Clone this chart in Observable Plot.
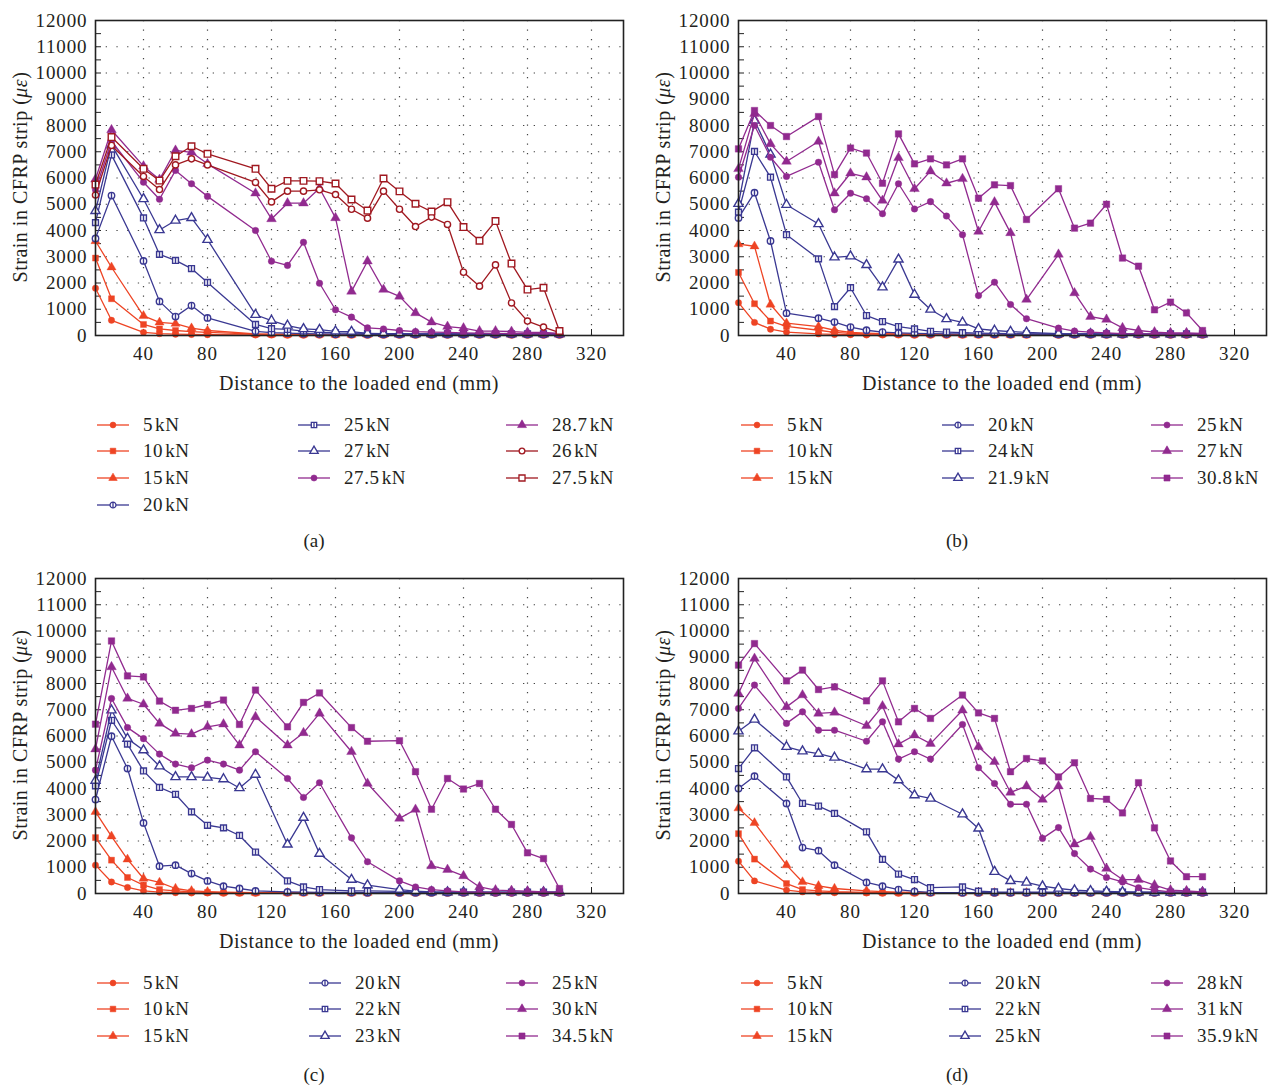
<!DOCTYPE html>
<html><head><meta charset="utf-8">
<script src="https://cdn.jsdelivr.net/npm/d3@7"></script>
<script src="https://cdn.jsdelivr.net/npm/@observablehq/plot@0.6"></script>
<style>
body{margin:0;background:#fff;overflow:hidden;font-family:"Liberation Serif",serif;color:#231f20;}
#root{position:relative;width:1272px;height:1087px;}
.panel{position:absolute;width:636px;height:540px;}
.panel svg.chart{position:absolute;left:0;top:0;}
.panel svg.chart text{font-family:"Liberation Serif",serif !important;}
.ylab{position:absolute;left:20px;top:177px;transform:translate(-50%,-50%) rotate(-90deg);white-space:nowrap;font-size:20px;letter-spacing:0.5px;line-height:20px;}
.xlab{position:absolute;left:359px;top:373px;transform:translateX(-50%);white-space:nowrap;font-size:20px;letter-spacing:0.6px;line-height:20px;}
.leg{position:absolute;height:20px;white-space:nowrap;font-size:19px;letter-spacing:0.6px;line-height:20px;}
.leg svg{position:absolute;left:0;top:3px;}
.leg span.t{position:absolute;top:0;}
.leg span.u{margin-left:2px;}
.cap{position:absolute;left:314px;transform:translateX(-50%);font-size:19px;line-height:20px;}
</style></head>
<body><div id="root"></div>
<script>
// ---------- data ----------
const xTicks = [40, 80, 120, 160, 200, 240, 280, 320];
const yTicks = [0,1000,2000,3000,4000,5000,6000,7000,8000,9000,10000,11000,12000];

// Panel (a)
const xA = [10,20,40,50,60,70,80,110,120,130,140,150,160,170,180,190,200,210,220,230,240,250,260,270,280,290,300];
const labelsA = ["5","10","15","20","25","27","27.5","28.7","26","27.5"];
const a5   = [1800,580,120,70,50,40,30,20,15,10,10,10,10,10,10,10,10,10,10,10,10,10,10,10,10,10,10];
const a10  = [2950,1400,420,250,190,150,120,50,40,30,30,30,30,20,20,20,20,20,20,20,20,20,20,20,20,20,20];
const a15  = [3600,2600,750,500,450,280,190,60,50,40,40,40,30,30,30,30,30,30,30,30,30,30,30,30,30,30,30];
const a20  = [3700,5330,2840,1300,720,1140,670,160,110,90,70,60,50,50,40,40,40,40,40,40,40,40,40,40,40,40,40];
const a25  = [4300,6880,4480,3090,2860,2550,2020,420,260,230,170,130,100,90,80,70,70,60,60,60,60,60,60,60,60,60,60];
const a27  = [4750,7250,5200,4020,4380,4480,3650,790,570,380,250,220,160,150,80,70,60,60,60,60,60,60,60,60,60,60,60];
const a275 = [5550,7400,5840,5190,6290,5780,5300,4000,2830,2670,3550,1990,980,700,290,250,190,150,130,120,100,90,80,70,70,60,60];
const a287 = [5950,7830,6450,5940,7050,6980,6540,5420,4440,5040,5040,5610,4480,1680,2830,1750,1490,860,510,340,280,170,170,150,120,120,80];
const a26  = [5350,7240,6060,5560,6500,6730,6500,5830,5090,5500,5500,5550,5370,4810,4470,5500,4810,4150,4510,4230,2410,1880,2690,1240,550,320,110];
const a275s= [5750,7560,6350,5900,6830,7210,6920,6350,5590,5890,5890,5880,5790,5180,4760,5980,5490,5020,4720,5080,4130,3610,4360,2740,1750,1820,170];

// Panel (b)
const xB = [10,20,30,40,60,70,80,90,100,110,120,130,140,150,160,170,180,190,210,220,230,240,250,260,270,280,290,300];
const labelsB = ["5","10","15","20","24","21.9","25","27","30.8"];
const b5   = [1250,500,240,130,60,40,30,20,20,15,10,10,10,10,10,10,10,10,10,10,10,10,10,10,10,10,10,10];
const b10  = [2400,1210,550,350,200,120,80,60,50,40,30,30,20,20,20,20,20,20,20,20,20,20,20,20,20,20,20,20];
const b15  = [3480,3400,1180,470,340,200,120,90,70,60,50,40,40,30,30,30,30,30,30,30,30,30,30,30,30,30,30,30];
const b20  = [4480,5440,3600,850,660,510,320,200,130,100,80,70,60,60,50,50,50,50,40,40,40,40,40,40,40,40,40,40];
const b24  = [4700,7010,6030,3840,2920,1100,1820,760,530,340,250,160,130,110,90,80,70,60,60,60,60,60,60,60,60,60,60,60];
const b219 = [5020,8190,6900,4980,4250,2980,3020,2690,1840,2900,1560,990,630,500,250,190,150,120,70,60,60,50,50,50,50,50,50,50];
const b25  = [6030,8000,6790,6060,6600,4790,5420,5210,4640,5780,4820,5100,4550,3840,1520,2030,1180,640,280,170,130,100,70,60,50,50,50,50];
const b27  = [6350,8450,7300,6630,7390,5420,6180,6030,5140,6770,5590,6260,5800,5970,3960,5080,3910,1370,3090,1620,720,610,290,190,130,100,100,80];
const b308 = [7110,8570,8000,7580,8340,6130,7140,6950,5800,7680,6540,6730,6500,6730,5230,5740,5710,4420,5590,4090,4280,5000,2950,2640,980,1270,860,190];

// Panel (c)
const xC = [10,20,30,40,50,60,70,80,90,100,110,130,140,150,170,180,200,210,220,230,240,250,260,270,280,290,300];
const labelsC = ["5","10","15","20","22","23","25","30","34.5"];
const c5   = [1080,440,230,100,50,30,20,20,10,10,10,10,10,10,10,10,10,10,10,10,10,10,10,10,10,10,10];
const c10  = [2130,1270,610,320,150,100,60,40,30,20,20,20,20,20,20,20,20,20,20,20,20,20,20,20,20,20,20];
const c15  = [3110,2180,1300,570,420,190,100,70,50,40,30,30,30,30,30,30,30,30,30,30,30,30,30,30,30,30,30];
const c20  = [3580,5990,4760,2690,1040,1080,760,480,280,190,100,60,50,40,40,30,30,30,30,30,30,30,30,30,30,30,30];
const c22  = [4100,6600,5690,4670,4040,3780,3110,2600,2500,2210,1580,480,250,150,100,100,80,60,50,50,50,50,50,50,50,50,50];
const c23  = [4300,6980,5900,5460,4850,4440,4440,4420,4360,4020,4530,1870,2890,1520,530,320,150,90,60,50,50,50,50,50,50,50,50];
const c25  = [4700,7430,6320,5900,5310,4930,4790,5080,4930,4700,5400,4380,3660,4220,2120,1210,480,250,150,100,60,40,30,30,30,30,30];
const c30  = [5500,8630,7430,7210,6480,6100,6070,6350,6450,5650,6730,5650,6120,6860,5400,4190,2860,3200,1050,910,670,250,130,110,90,60,50];
const c345 = [6450,9620,8290,8250,7330,6980,7050,7200,7370,6440,7750,6350,7280,7640,6320,5800,5820,4640,3210,4380,3980,4190,3210,2630,1550,1330,190];

// Panel (d)
const xD = [10,20,40,50,60,70,90,100,110,120,130,150,160,170,180,190,200,210,220,230,240,250,260,270,280,290,300];
const labelsD = ["5","10","15","20","22","25","28","31","35.9"];
const d5   = [1230,480,130,60,40,30,20,10,10,10,10,10,10,10,10,10,10,10,10,10,10,10,10,10,10,10,10];
const d10  = [2280,1310,380,150,100,70,40,30,20,20,20,20,20,20,20,20,20,20,20,20,20,20,20,20,20,20,20];
const d15  = [3250,2690,1080,440,290,190,100,70,50,40,30,30,30,30,30,30,30,30,30,30,30,30,30,30,30,30,30];
const d20  = [4000,4470,3430,1750,1630,1080,420,280,150,80,40,30,30,30,30,30,30,30,30,30,30,30,30,30,30,30,30];
const d22  = [4760,5550,4440,3430,3330,3050,2350,1300,740,530,220,250,90,60,50,50,50,50,50,50,50,50,50,50,50,50,50];
const d25  = [6180,6630,5590,5420,5330,5180,4740,4740,4320,3750,3620,3020,2480,830,480,420,280,190,130,100,80,60,50,40,40,40,40];
const d28  = [7050,7940,6480,6920,6220,6220,5800,6540,5120,5400,5120,6440,4790,4190,3400,3400,2100,2510,1520,930,610,440,220,130,60,50,50];
const d31  = [7620,8950,7110,7560,6860,6900,6390,7140,5690,6030,5710,6980,5590,5020,3850,4090,3580,4090,1880,2160,950,530,530,320,130,100,60];
const d359 = [8700,9520,8100,8510,7770,7870,7340,8100,6540,7050,6670,7560,6880,6670,4640,5140,5050,4440,4980,3620,3590,3070,4220,2500,1240,640,640];

// ---------- styles ----------
const RED = "#ee4424", BLUE = "#3a3892", PURPLE = "#912a8f", DRED = "#a01820";
const circleBar = {draw(ctx, size){const r=Math.sqrt(size/Math.PI);ctx.moveTo(r,0);ctx.arc(0,0,r,0,2*Math.PI);ctx.closePath();ctx.moveTo(0,-r);ctx.lineTo(0,r);}};
const squareBar = {draw(ctx, size){const w=Math.sqrt(size)/2;ctx.moveTo(-w,-w);ctx.lineTo(w,-w);ctx.lineTo(w,w);ctx.lineTo(-w,w);ctx.closePath();ctx.moveTo(0,-w);ctx.lineTo(0,w);}};
const ST = {
  rc:{color:RED,sym:d3.symbolCircle,kind:"fill",r:3.2},
  rs:{color:RED,sym:d3.symbolSquare,kind:"fill",r:3.4},
  rt:{color:RED,sym:d3.symbolTriangle,kind:"fill",r:3.4},
  bc:{color:BLUE,sym:circleBar,kind:"open",r:3.2},
  bs:{color:BLUE,sym:squareBar,kind:"open",r:3.3},
  bt:{color:BLUE,sym:d3.symbolTriangle,kind:"open",r:3.4},
  pc:{color:PURPLE,sym:d3.symbolCircle,kind:"fill",r:3.3},
  pt:{color:PURPLE,sym:d3.symbolTriangle,kind:"fill",r:3.6},
  ps:{color:PURPLE,sym:d3.symbolSquare,kind:"fill",r:3.7},
  dc:{color:DRED,sym:d3.symbolCircle,kind:"open",r:3.1},
  ds:{color:DRED,sym:d3.symbolSquare,kind:"open",r:3.7}
};

const panels = [
  {id:"(a)", left:0, top:0, xs:xA, labels:labelsA,
   values:[a5,a10,a15,a20,a25,a27,a275,a287,a26,a275s],
   styles:["rc","rs","rt","bc","bs","bt","pc","pt","dc","ds"],
   cols:[[0,1,2,3],[4,5,6],[7,8,9]], colX:[96,297,505], capTop:531},
  {id:"(b)", left:643, top:0, xs:xB, labels:labelsB,
   values:[b5,b10,b15,b20,b24,b219,b25,b27,b308],
   styles:["rc","rs","rt","bc","bs","bt","pc","pt","ps"],
   cols:[[0,1,2],[3,4,5],[6,7,8]], colX:[97,298,507], capTop:531},
  {id:"(c)", left:0, top:558, xs:xC, labels:labelsC,
   values:[c5,c10,c15,c20,c22,c23,c25,c30,c345],
   styles:["rc","rs","rt","bc","bs","bt","pc","pt","ps"],
   cols:[[0,1,2],[3,4,5],[6,7,8]], colX:[96,308,505], capTop:507},
  {id:"(d)", left:643, top:558, xs:xD, labels:labelsD,
   values:[d5,d10,d15,d20,d22,d25,d28,d31,d359],
   styles:["rc","rs","rt","bc","bs","bt","pc","pt","ps"],
   cols:[[0,1,2],[3,4,5],[6,7,8]], colX:[97,305,507], capTop:507}
];

const yGrid = [1000,2000,3000,4000,5000,6000,7000,8000,9000,10000,11000];
const yMinor = [500,1000,1500,2000,2500,3000,3500,4000,4500,5000,5500,6000,6500,7000,7500,8000,8500,9000,9500,10000,10500,11000,11500];
const root = document.getElementById("root");

for (const p of panels) {
  const div = document.createElement("div");
  div.className = "panel";
  div.style.left = p.left + "px";
  div.style.top = p.top + "px";
  root.appendChild(div);

  const marks = [
    Plot.ruleY(yGrid, {stroke:"#444", strokeWidth:1.2, strokeDasharray:"1.3,9.4"}),
    Plot.ruleX(xTicks, {stroke:"#444", strokeWidth:1.2, strokeDasharray:"1.3,8.2"}),
    Plot.tickY(yMinor, {stroke:"#222", strokeWidth:1, insetRight:522}),
    Plot.tickX(xTicks, {stroke:"#222", strokeWidth:1, insetTop:309})
  ];
  p.values.forEach((vals, si) => {
    const st = ST[p.styles[si]];
    const rows = p.xs.map((x, i) => ({x, y: vals[i]}));
    marks.push(Plot.line(rows, {x:"x", y:"y", stroke:st.color, strokeWidth:1.3}));
    marks.push(Plot.dot(rows, {x:"x", y:"y", symbol:st.sym, r:st.r,
      fill: st.kind === "fill" ? st.color : "white",
      stroke: st.color, strokeWidth: st.kind === "fill" ? 0.6 : 1.4, strokeOpacity: st.kind === "fill" ? 0.6 : 1}));
  });
  marks.push(Plot.frame({stroke:"#222", strokeWidth:1.6}));
  marks.push(Plot.axisX(xTicks, {tickSize:0, tickPadding:11, label:null, tickFormat: d => String(d)}));
  marks.push(Plot.axisY(yTicks, {tickSize:0, tickPadding:8, label:null, tickFormat: d => String(d)}));

  const chart = Plot.plot({
    width: 630, height: 400,
    marginLeft: 95, marginRight: 7, marginTop: 20, marginBottom: 65,
    x: {domain:[10,340]},
    y: {domain:[0,12000]},
    style: {fontFamily:"'Liberation Serif', serif", fontSize:"19px", color:"#231f20", background:"transparent", letterSpacing:"0.9px"},
    marks
  });
  chart.classList.add("chart");
  div.appendChild(chart);

  const yl = document.createElement("div");
  yl.className = "ylab";
  yl.innerHTML = "Strain in CFRP strip (<i>\u03bc\u03b5</i>)";
  div.appendChild(yl);
  const xl = document.createElement("div");
  xl.className = "xlab";
  xl.textContent = "Distance to the loaded end (mm)";
  div.appendChild(xl);

  const rowY = [415, 441, 468, 495];
  p.cols.forEach((col, ci) => {
    col.forEach((si, ri) => {
      const st = ST[p.styles[si]];
      const item = document.createElement("div");
      item.className = "leg";
      item.style.left = p.colX[ci] + "px";
      item.style.top = rowY[ri] + "px";
      const size = Math.PI * st.r * st.r * 0.85;
      const path = d3.symbol(st.sym, size)();
      const fill = st.kind === "fill" ? st.color : "white";
      item.innerHTML = `<svg width="34" height="14" viewBox="0 0 34 14"><line x1="1" x2="33" y1="7" y2="7" stroke="${st.color}" stroke-width="1.3"/><path transform="translate(17,7)" d="${path}" fill="${fill}" stroke="${st.color}" stroke-width="${st.kind==='fill'?0.6:1.3}"/></svg><span class="t" style="left:47px">${p.labels[si]}<span class="u">kN</span></span>`;
      div.appendChild(item);
    });
  });
  const cap = document.createElement("div");
  cap.className = "cap";
  cap.style.top = p.capTop + "px";
  cap.textContent = p.id;
  div.appendChild(cap);
}
</script></body></html>
